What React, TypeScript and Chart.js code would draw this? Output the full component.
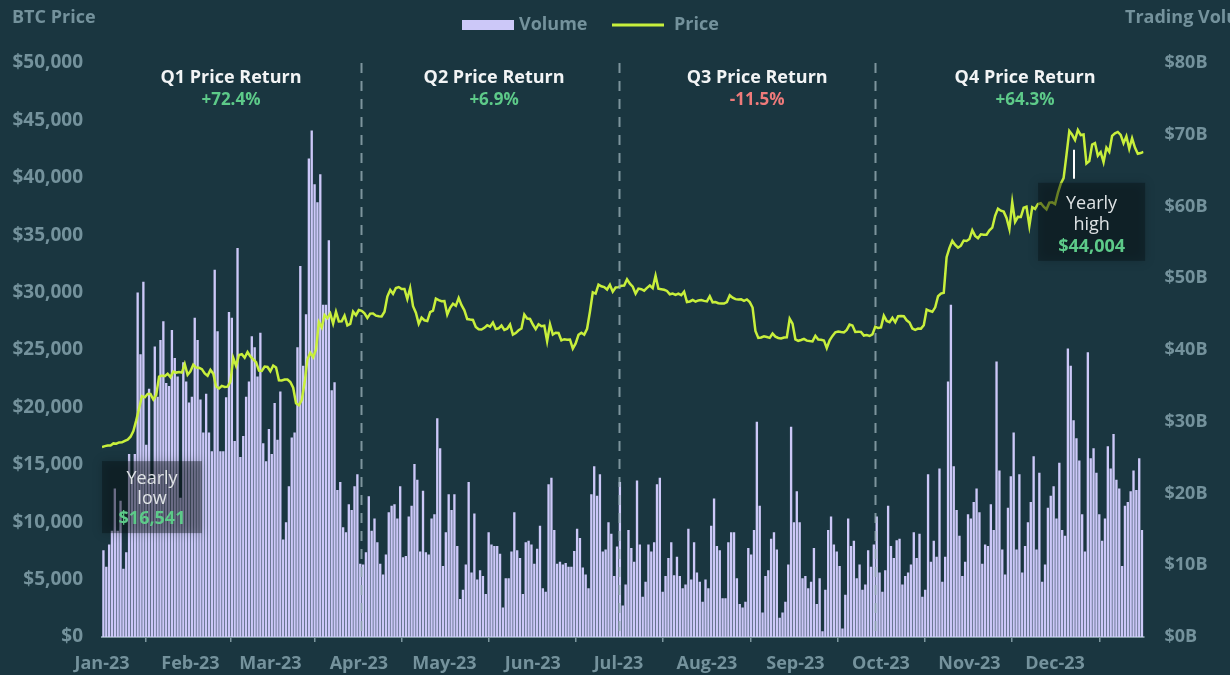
import React, { useEffect, useRef } from 'react';
import { Chart, registerables } from 'chart.js';

Chart.register(...registerables);

// ---------- DATA ----------
const monthStarts = [0, 31, 59, 90, 120, 151, 181, 212, 243, 273, 304, 334, 365];
const monthLabels = ['Jan-23', 'Feb-23', 'Mar-23', 'Apr-23', 'May-23', 'Jun-23', 'Jul-23', 'Aug-23', 'Sep-23', 'Oct-23', 'Nov-23', 'Dec-23', ''];

// BTC daily price, index 0 = 31 Dec 2022 close, index k = close of day k of 2023
const prices = [
  16547,
  16625, 16688, 16680, 16863, 16836, 16951, 16955, 17091, 17196, 17446, 17934, 18869, 19909, 20976, 20880, 21169, 21161, 20688, 21086, 22676, 22777, 22720, 22934, 22636, 23117, 23032, 23078, 23031, 23774, 22840, 23139,
  23723, 23471, 23449, 23331, 22955, 22760, 23264, 22939, 21819, 21651, 21870, 21788, 21808, 22220, 24307, 23623, 24565, 24641, 24327, 24829, 24436, 24188, 23947, 23198, 23175, 23561, 23522, 23147,
  23646, 23475, 22362, 22353, 22435, 22429, 22219, 21718, 20363, 20187, 20632, 22163, 24197, 24746, 24375, 25052, 27423, 26965, 28038, 27767, 28175, 27307, 28333, 27493, 27494, 27994, 27139, 27268, 28348, 28033, 28478,
  28411, 28199, 27790, 28169, 28175, 27992, 27948, 27917, 28333, 29653, 30235, 29892, 30399, 30485, 30318, 30316, 29445, 30397, 28822, 28245, 27276, 27817, 27591, 27525, 28307, 28423, 29473, 29340, 29248, 29268,
  28091, 28680, 29031, 28848, 29534, 28905, 28454, 27695, 27654, 27621, 27000, 26804, 26785, 26931, 27158, 27036, 27399, 26833, 26889, 27130, 26753, 26851, 27226, 26334, 26477, 26720, 26868, 28085, 27745, 27702, 27219,
  26819, 27249, 27075, 27119, 25760, 27238, 26346, 26498, 26478, 25841, 25940, 25902, 25919, 25124, 25576, 26327, 26510, 26336, 26851, 28327, 30027, 29912, 30695, 30548, 30480, 30271, 30688, 30086, 30445, 30477,
  30590, 30620, 31156, 30777, 30514, 29909, 30346, 30292, 30171, 30414, 30620, 30392, 31476, 30334, 30295, 30249, 30146, 29856, 29913, 29793, 29908, 29772, 30083, 29176, 29228, 29354, 29211, 29319, 29357, 29278, 29230,
  29676, 29152, 29179, 29074, 29042, 29041, 29180, 29766, 29561, 29429, 29397, 29415, 29283, 29408, 29170, 28701, 26665, 26050, 26096, 26189, 26125, 26056, 26432, 26163, 26048, 26008, 26090, 26107, 27727, 27297, 25931,
  25800, 25869, 25970, 25813, 25780, 25753, 26241, 25906, 25895, 25833, 25163, 25841, 26228, 26540, 26608, 26568, 26534, 26754, 27211, 27133, 26567, 26580, 26579, 26256, 26299, 26218, 26353, 27022, 26911, 26968,
  27984, 27530, 27429, 27799, 27416, 27947, 27967, 27936, 27584, 27392, 26874, 26757, 26862, 26861, 27160, 28520, 28415, 28328, 28720, 29682, 29918, 29993, 33087, 33902, 34502, 34157, 33910, 34089, 34539, 34502, 34668,
  35437, 34939, 34733, 35083, 35047, 35044, 35419, 35655, 36693, 37313, 37138, 37054, 36502, 35537, 37880, 36154, 36596, 36585, 37387, 37476, 35813, 37433, 37289, 37721, 37796, 37480, 37254, 37832, 37859, 37712,
  38688, 39477, 39978, 41980, 44080, 43746, 43293, 44166, 43726, 43779, 41243, 41450, 42890, 43023, 41929, 42240, 41364, 42623, 42270, 43652, 43869, 43997, 43740, 43016, 43613, 42520, 43442, 42627, 42099, 42156, 42265,
];

// Daily trading volume in billions of USD, index 0 = 1 Jan 2023
const volumes = [
  12.1, 9.8, 12.9, 14.8, 20.7, 14.8, 19, 9.5, 11.8, 25.5,
  22, 25.5, 48, 39.4, 49.5, 26.8, 34.6, 22, 40.5, 33.5,
  41.4, 44, 35.4, 35, 42.8, 38.9, 36.3, 19.4, 38.3, 35.6,
  32.7, 33.5, 44.5, 41.4, 33.1, 28.5, 33.9, 28.5, 25.9, 51.2,
  42.6, 25.9, 25.9, 33.4, 45.3, 44.5, 27.3, 54.2, 25.1, 28,
  33.5, 35.6, 41.9, 40.4, 36.3, 42.4, 27, 24.5, 29,
  25.5, 32.6, 27.5, 34.2, 13.6, 16, 21, 27.8, 28.5, 40.4, 51.7, 37.8, 45,
  66.7, 70.6, 63.1, 60.6, 64.5, 46.3, 46.3, 55.3, 34.4, 35.5, 20.5, 21.6, 15.3, 14.6, 18.5, 17.7, 21, 22.7, 10.2, 10.1,
  11.8, 19.6, 14.8, 16.5, 13.2, 10.2, 8.7, 11.5, 17.4, 18.3, 18.5, 16.5, 21, 11.1, 11.3, 16.8, 18.3, 24.1, 21.9, 11.9,
  20.4, 11.8, 11.5, 16.5, 17.1, 30.5, 26.3, 9.9,
  14.6, 19.9, 17.7, 19.9, 12.7, 5.3, 6.6, 10.1, 21.6, 9, 17.2, 8, 9.3, 8.5, 6, 14.6, 12.9, 12.7, 12.7, 11.6,
  4.1, 8.2, 8.2, 11.9, 17.4, 12.1, 11, 6, 13.2, 13.4, 12.9, 10.2, 12.3, 15.5, 6.8, 6.3, 21.3, 22.2, 14.9, 10.2,
  10.5, 10.1, 10.3, 9.8, 9.8, 12, 15.1, 13.8, 9.7, 8.7, 6.8, 19.9, 23.8, 19.7, 22.7, 11.9, 12.2, 16, 14.4, 8.5, 12.6,
  21.6, 4.4, 7.3, 14.9, 12.4, 10.5, 21.8, 12.9, 5.6, 7.7, 12.9, 11.9, 13.2, 21.3, 22.2, 6.3, 8.5, 11, 13.2, 8.6,
  11.2, 8.5, 6.8, 7.3, 15.1, 8, 13.2, 9, 7.7, 4.9, 8, 6.8, 15.5, 19.3, 12.7, 12.1, 5.4, 5.4, 13.2, 14.6,
  14.6, 8.2, 4.6, 4.1, 4.9, 12.4, 11.5, 14.9, 30, 18.3, 3.4, 8.5, 9.3, 13.7, 14.6, 12.2, 2.7, 3.4, 4.9, 10.1,
  29.3, 16, 20.3,
  16, 8.2, 8.5, 6.8, 7.7, 12.4, 4.6, 8.2, 0.8, 6.6, 14.9, 16.8, 12.9, 11.9, 9.9, 1.2, 5.9, 16.5, 12.7, 13.4,
  8.2, 10.1, 6.6, 7.3, 12.1, 9.8, 12.9, 16.8, 9, 6.3, 9.3, 18.3, 12.7, 11, 13.5, 13.7, 7.3, 8.5, 9, 10.1,
  14.6, 11, 14.4, 5.6, 6.6, 22.7, 10.5, 13.4, 11.2, 23.5, 7.7, 11.2, 35.6, 46.3, 23.8, 17.7, 14.1, 8.5, 10.5, 17.1,
  16.5, 18.8, 20.7, 17.4, 10.2, 12.9, 12.7, 18.5, 14.9, 38.4, 23.2, 12.2, 8.7, 18, 22.4, 28.5, 12.2, 22.7, 9, 12.7,
  16, 18.8, 25.2, 12.2, 22.9, 7.7, 10.1, 18, 19.7, 21, 16.5, 24.3, 14.9, 14.1, 40.2, 37.8, 30.2, 27.7, 24.6, 17.1,
  11.9, 39.7, 24.9, 26.3, 22.9, 17.1, 13.4, 16.5, 26.6, 23.5, 28.3, 21.9, 20.7, 9.9, 18.3, 18.8, 20.3, 23.2, 20.5, 24.9,
  14.9,
];

const quarterLines = [90.6, 181.1, 270.8];
const quarterLabelPos = [45.2, 137.4, 229.6, 323.5];
const quarterTitles = ['Q1 Price Return', 'Q2 Price Return', 'Q3 Price Return', 'Q4 Price Return'];
const quarterReturns = ['+72.4%', '+6.9%', '-11.5%', '+64.3%'];

const yearlyLow = { idx: 0, value: 16541, title: ['Yearly', 'low'], label: '$16,541' };
const yearlyHigh = { idx: 340.5, value: 44004, title: ['Yearly', 'high'], label: '$44,004' };

// ---------- STYLE ----------
const BG = '#1a3640';
const GRAY = '#74929c';
const LIME = '#c8ef3c';
const LAVENDER = '#ccc8f8';
const GREEN = '#5dca89';
const RED = '#ef7a7a';
const FONT = '"Open Sans", "Noto Sans", sans-serif';

const overlayPlugin = {
  id: 'overlay',
  beforeDraw(chart: any) {
    const { ctx, width, height } = chart;
    ctx.save();
    ctx.fillStyle = BG;
    ctx.fillRect(0, 0, width, height);
    ctx.restore();
  },
  afterDatasetsDraw(chart: any) {
    const { ctx, chartArea, scales } = chart;
    const x = scales.x;
    const y = scales.y;

    // quarter dashed separators
    ctx.save();
    ctx.setLineDash([10, 8]);
    ctx.strokeStyle = 'rgba(150,172,180,0.8)';
    ctx.lineWidth = 2;
    quarterLines.forEach((q) => {
      const px = Math.round(x.getPixelForValue(q)) + 0.5;
      ctx.beginPath();
      ctx.moveTo(px, chartArea.top);
      ctx.lineTo(px, chartArea.bottom);
      ctx.stroke();
    });
    ctx.restore();

    // quarter labels
    ctx.save();
    ctx.textAlign = 'center';
    ctx.textBaseline = 'middle';
    quarterTitles.forEach((t, i) => {
      const px = x.getPixelForValue(quarterLabelPos[i]);
      ctx.font = `bold 18px ${FONT}`;
      ctx.fillStyle = '#f2f4f5';
      ctx.fillText(t, px, chartArea.top + 15);
      ctx.font = `bold 17px ${FONT}`;
      ctx.fillStyle = quarterReturns[i].startsWith('-') ? RED : GREEN;
      ctx.fillText(quarterReturns[i], px, chartArea.top + 37);
    });
    ctx.restore();

    const drawBox = (left: number, top: number, w: number, h: number, lines: string[], value: string, offs: number[]) => {
      ctx.save();
      ctx.shadowColor = 'rgba(0,0,0,0.45)';
      ctx.shadowBlur = 10;
      ctx.fillStyle = 'rgba(6,14,17,0.38)';
      ctx.fillRect(left, top, w, h);
      ctx.restore();
      ctx.save();
      ctx.textAlign = 'center';
      ctx.textBaseline = 'middle';
      ctx.font = `18px ${FONT}`;
      ctx.fillStyle = '#dfe3e5';
      ctx.fillText(lines[0], left + w / 2, top + offs[0]);
      ctx.fillText(lines[1], left + w / 2, top + offs[1]);
      ctx.font = `bold 18px ${FONT}`;
      ctx.fillStyle = GREEN;
      ctx.fillText(value, left + w / 2, top + offs[2]);
      ctx.restore();
    };

    // yearly low annotation
    const lx = x.getPixelForValue(yearlyLow.idx);
    const ly = y.getPixelForValue(yearlyLow.value);
    drawBox(lx, ly + 14, 100, 72, yearlyLow.title, yearlyLow.label, [18, 38, 58]);

    // yearly high annotation
    const hx = x.getPixelForValue(yearlyHigh.idx);
    const hy = y.getPixelForValue(yearlyHigh.value);
    ctx.save();
    ctx.strokeStyle = '#ffffff';
    ctx.lineWidth = 2;
    ctx.beginPath();
    ctx.moveTo(Math.round(hx), hy + 18);
    ctx.lineTo(Math.round(hx), hy + 47);
    ctx.stroke();
    ctx.restore();
    drawBox(hx - 35.5, hy + 51, 107, 78, yearlyHigh.title, yearlyHigh.label, [21, 42, 64]);
  },
  afterDraw(chart: any) {
    const { ctx } = chart;
    ctx.save();
    ctx.font = `bold 18px ${FONT}`;
    ctx.fillStyle = GRAY;
    ctx.textBaseline = 'middle';
    ctx.textAlign = 'left';
    ctx.fillText('BTC Price', 12, 18);
    ctx.fillText('Trading Volume', 1125, 18);
    // legend
    ctx.fillStyle = LAVENDER;
    ctx.fillRect(462, 20, 52, 10);
    ctx.fillStyle = GRAY;
    ctx.fillText('Volume', 519, 25);
    ctx.strokeStyle = LIME;
    ctx.lineWidth = 3;
    ctx.beginPath();
    ctx.moveTo(612, 25);
    ctx.lineTo(664, 25);
    ctx.stroke();
    ctx.fillText('Price', 674, 25);
    ctx.restore();
  },
};

export default function App() {
  const canvasRef = useRef<HTMLCanvasElement | null>(null);

  useEffect(() => {
    if (!canvasRef.current) return;
    const chart = new Chart(canvasRef.current, {
      type: 'bar',
      data: {
        datasets: [
          {
            type: 'line',
            label: 'Price',
            data: prices.map((p, i) => ({ x: i, y: p })),
            borderColor: LIME,
            borderWidth: 2.5,
            pointRadius: 0,
            tension: 0,
            yAxisID: 'y',
            order: 0,
          } as any,
          {
            type: 'bar',
            label: 'Volume',
            data: volumes.map((v, i) => ({ x: i + 0.5, y: v })),
            backgroundColor: LAVENDER,
            borderWidth: 0,
            barPercentage: 0.82,
            categoryPercentage: 1,
            yAxisID: 'y1',
            order: 1,
          } as any,
        ],
      },
      options: {
        responsive: false,
        animation: false,
        devicePixelRatio: 1,
        layout: { padding: { top: 63, left: 0, right: 0, bottom: 0 } },
        plugins: {
          legend: { display: false },
          tooltip: { enabled: false },
        },
        scales: {
          x: {
            type: 'linear',
            min: 0,
            max: 365,
            offset: false,
            afterBuildTicks: (scale: any) => {
              scale.ticks = monthStarts.map((v) => ({ value: v }));
            },
            afterFit: (scale: any) => {
              scale.height = 38;
            },
            ticks: {
              autoSkip: false,
              maxRotation: 0,
              padding: 11,
              color: GRAY,
              font: { family: FONT, size: 18, weight: 'bold' },
              callback: (v: any) => {
                const idx = monthStarts.indexOf(Number(v));
                return idx >= 0 ? monthLabels[idx] : '';
              },
            },
            grid: {
              display: true,
              drawOnChartArea: false,
              drawTicks: true,
              tickLength: 5,
              color: '#7d979f',
              lineWidth: 1.5,
            },
            border: { display: true, color: '#7d979f', width: 2 },
          },
          y: {
            type: 'linear',
            position: 'left',
            min: 0,
            max: 50000,
            afterFit: (scale: any) => {
              scale.width = 102;
            },
            ticks: {
              stepSize: 5000,
              padding: 19,
              color: GRAY,
              font: { family: FONT, size: 19, weight: 'bold' },
              callback: (v: any) => '$' + Number(v).toLocaleString('en-US'),
            },
            grid: { display: false, drawTicks: false },
            border: { display: false },
          },
          y1: {
            type: 'linear',
            position: 'right',
            min: 0,
            max: 80,
            afterFit: (scale: any) => {
              scale.width = 86.5;
            },
            ticks: {
              stepSize: 10,
              padding: 21,
              color: GRAY,
              font: { family: FONT, size: 18, weight: 'bold' },
              callback: (v: any) => '$' + v + 'B',
            },
            grid: { display: false, drawTicks: false },
            border: { display: false },
          },
        },
      } as any,
      plugins: [overlayPlugin],
    });
    return () => chart.destroy();
  }, []);

  return (
    <div style={{ position: 'fixed', left: 0, top: 0, width: 1230, height: 675, background: BG }}>
      <canvas ref={canvasRef} width={1230} height={675} style={{ display: 'block', width: 1230, height: 675 }} />
    </div>
  );
}
